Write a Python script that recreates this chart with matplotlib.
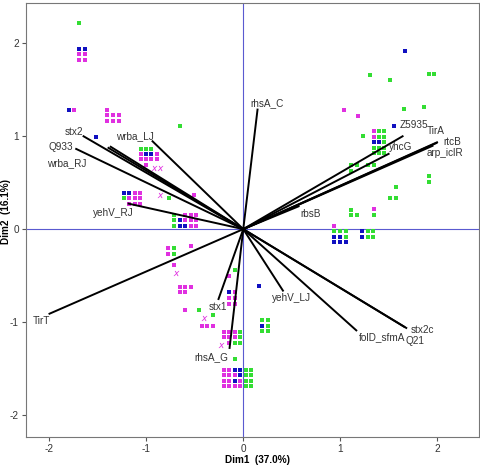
import matplotlib
matplotlib.use("Agg")
import matplotlib.pyplot as plt

plt.rcParams["font.family"] = ["Liberation Sans", "DejaVu Sans"]
plt.rcParams["axes.unicode_minus"] = False

# object points (dimension scores), one list per colour
green_x = [-1.69, -0.657, -1.058, -1.003, -0.948, -1.23, -0.77,
           -0.714, -0.714, -0.714, -0.714, -0.714, -0.46, -0.316, -0.086,
           -0.031, -0.031, -0.09, -0.031, -0.082,
           0.024, 0.083, 0.024, 0.083, 0.024, 0.083, 0.024, 0.083,
           0.193, 0.25, 0.25, 0.193, 0.25,
           1.399, 1.454, 1.399, 1.454, 1.454, 1.343, 1.399, 1.454, 1.343, 1.399, 1.454,
           1.234, 1.653, 1.863, 1.302, 1.515, 1.914, 1.962,
           1.11, 1.168, 1.11, 1.286, 1.343, 1.91, 1.91, 1.57, 1.515, 1.57,
           1.11, 1.11, 1.168, 1.343,
           0.938, 0.997, 1.055, 1.055, 1.281, 1.34, 1.281, 1.34]
green_y = [2.21, 1.11, 0.866, 0.866, 0.866, 0.33, 0.335,
           0.156, 0.095, 0.034, -0.202, -0.263, -0.873, -0.923, -0.443,
           -1.105, -1.163, -1.22, -1.22, -1.396,
           -1.514, -1.514, -1.572, -1.572, -1.629, -1.629, -1.686, -1.686,
           -0.98, -0.98, -1.04, -1.10, -1.10,
           1.052, 1.052, 0.995, 0.995, 0.933, 0.876, 0.876, 0.876, 0.815, 0.815, 0.815,
           1.002, 1.296, 1.314, 1.658, 1.608, 1.669, 1.669,
           0.69, 0.69, 0.629, 0.69, 0.69, 0.575, 0.51, 0.45, 0.331, 0.331,
           0.21, 0.153, 0.153, 0.153,
           -0.024, -0.024, -0.024, -0.084, -0.024, -0.024, -0.084, -0.084]

blue_x = [-1.69, -1.63, -1.80, -1.515, -1.003, -0.948, -1.23, -1.175,
          -0.657, -0.657, -0.598, -0.144,
          -0.09, -0.031, -0.031, -0.09, 0.193, 0.165,
          1.557, 1.67, 1.343, 1.399,
          0.938, 0.997, 0.938, 0.997, 1.055, 1.223, 1.223]
blue_y = [1.94, 1.94, 1.285, 0.99, 0.808, 0.808, 0.392, 0.392,
          0.095, 0.034, 0.034, -0.68,
          -1.514, -1.514, -1.572, -1.629, -1.04, -0.615,
          1.11, 1.912, 0.933, 0.933,
          -0.084, -0.084, -0.142, -0.142, -0.142, -0.024, -0.084]

magenta_x = [-1.69, -1.63, -1.69, -1.63, -1.745,
             -1.40, -1.40, -1.34, -1.28, -1.40, -1.34, -1.28,
             -1.058, -0.89, -1.058, -1.003, -0.948, -0.89, -1.003,
             -1.12, -1.062, -1.175, -1.12, -1.062, -1.175, -1.12, -1.062,
             -0.512,
             -0.598, -0.543, -0.485, -0.598, -0.543, -0.485, -0.543, -0.485,
             -0.773, -0.773, -0.539, -0.714,
             -0.657, -0.598, -0.539, -0.657, -0.598, -0.598,
             -0.426, -0.371, -0.316, -0.144, -0.086,
             -0.144, -0.086, -0.144, -0.086,
             -0.203, -0.144, -0.09, -0.203, -0.144, -0.09, -0.144,
             -0.203, -0.144, -0.203, -0.144, -0.09, -0.203, -0.144, -0.031,
             -0.203, -0.144, -0.09, -0.031,
             1.034, 1.178, 1.343, 1.343, 1.343, 0.938]
magenta_y = [1.88, 1.88, 1.82, 1.82, 1.285,
             1.285, 1.225, 1.225, 1.225, 1.167, 1.167, 1.167,
             0.808, 0.808, 0.75, 0.75, 0.75, 0.75, 0.69,
             0.392, 0.392, 0.33, 0.33, 0.33, 0.27, 0.27, 0.27,
             0.368,
             0.156, 0.156, 0.156, 0.095, 0.095, 0.095, 0.034, 0.034,
             -0.202, -0.263, -0.177, -0.382,
             -0.622, -0.622, -0.622, -0.68, -0.68, -0.873,
             -1.045, -1.045, -1.045, -0.503, -0.68,
             -0.74, -0.74, -0.80, -0.80,
             -1.105, -1.105, -1.105, -1.163, -1.163, -1.163, -1.22,
             -1.514, -1.514, -1.572, -1.572, -1.572, -1.629, -1.629, -1.629,
             -1.686, -1.686, -1.686, -1.686,
             1.285, 1.213, 1.052, 0.995, 0.213, 0.034]

cross_x = [-0.925, -0.856, -0.863, -0.69, -0.402, -0.23]
cross_y = [0.658, 0.658, 0.363, -0.47, -0.955, -1.24]

# variable loadings (vector end points) and their labels
var_names = ["stx2", "Q933", "wrba_RJ", "", "wrba_LJ", "yehV_RJ", "rhsA_C",
             "Z5935", "yhcG", "TirA", "rtcB", "arp_iclR", "rbsB", "TirT",
             "stx1", "rhsA_G", "yehV_LJ", "folD_sfmA", "stx2c", "Q21"]
var_x = [-1.646, -1.722, -1.389, -1.366, -0.935, -1.182, 0.147,
         1.642, 1.498, 1.99, 1.997, 1.95, 0.57, -1.997,
         -0.255, -0.141, 0.409, 1.165, 1.68, 1.66]
var_y = [0.998, 0.862, 0.873, 0.885, 0.944, 0.274, 1.285,
         0.998, 0.809, 0.925, 0.933, 0.895, 0.245, -0.909,
         -0.751, -1.277, -0.661, -1.088, -1.062, -1.05]
label_x = [-1.65, -1.75, -1.612, 0, -0.918, -1.131, 0.072,
           1.611, 1.498, 1.894, 2.065, 1.894, 0.588, -2.168,
           -0.361, -0.502, 0.296, 1.189, 1.729, 1.677]
label_y = [1.04, 0.884, 0.712, 0, 0.998, 0.17, 1.353,
           1.12, 0.88, 1.052, 0.933, 0.815, 0.167, -0.984,
           -0.841, -1.378, -0.74, -1.159, -1.088, -1.206]
label_ha = ["right", "right", "right", "left", "right", "right", "left",
            "left", "left", "left", "left", "left", "left", "left",
            "left", "left", "left", "left", "left", "left"]

fig = plt.figure(figsize=(4.8, 4.65), dpi=100)
ax = fig.add_axes([0.054, 0.061, 0.944, 0.9325])

ax.axhline(0, color="#5a5ad0", lw=0.8, zorder=1)
ax.axvline(0, color="#5a5ad0", lw=0.8, zorder=1)

for name, vx, vy, lx, ly, ha in zip(var_names, var_x, var_y, label_x, label_y, label_ha):
    ax.plot([0, vx], [0, vy], color="black", lw=1.4, zorder=3)
    if name:
        ax.text(lx, ly, name, ha=ha, va="center", fontsize=7.2, color="#333333", zorder=4)

ax.scatter(green_x, green_y, marker="s", s=6, color="#33dd33", linewidths=0, zorder=2)
ax.scatter(blue_x, blue_y, marker="s", s=6, color="#1010c0", linewidths=0, zorder=2)
ax.scatter(magenta_x, magenta_y, marker="s", s=6, color="#e030e0", linewidths=0, zorder=2)
ax.scatter(cross_x, cross_y, marker="$x$", s=18, color="#e030e0", linewidths=0, zorder=2)

ax.set_xlim(-2.24, 2.43)
ax.set_ylim(-2.23, 2.43)
ax.set_xticks([-2, -1, 0, 1, 2])
ax.set_yticks([-2, -1, 0, 1, 2])
ax.tick_params(labelsize=7.2, labelcolor="#333333", color="#555555", length=3, width=0.8, pad=2)
for sp in ax.spines.values():
    sp.set_color("#777777")
    sp.set_linewidth(0.8)

ax.set_xlabel("Dim1  (37.0%)", fontsize=7.2, fontweight="bold", va="center")
ax.set_ylabel("Dim2  (16.1%)", fontsize=7.2, fontweight="bold", va="center")
ax.xaxis.set_label_coords(0.51, -0.054)
ax.yaxis.set_label_coords(-0.043, 0.52)

plt.savefig("out.png", dpi=100)
